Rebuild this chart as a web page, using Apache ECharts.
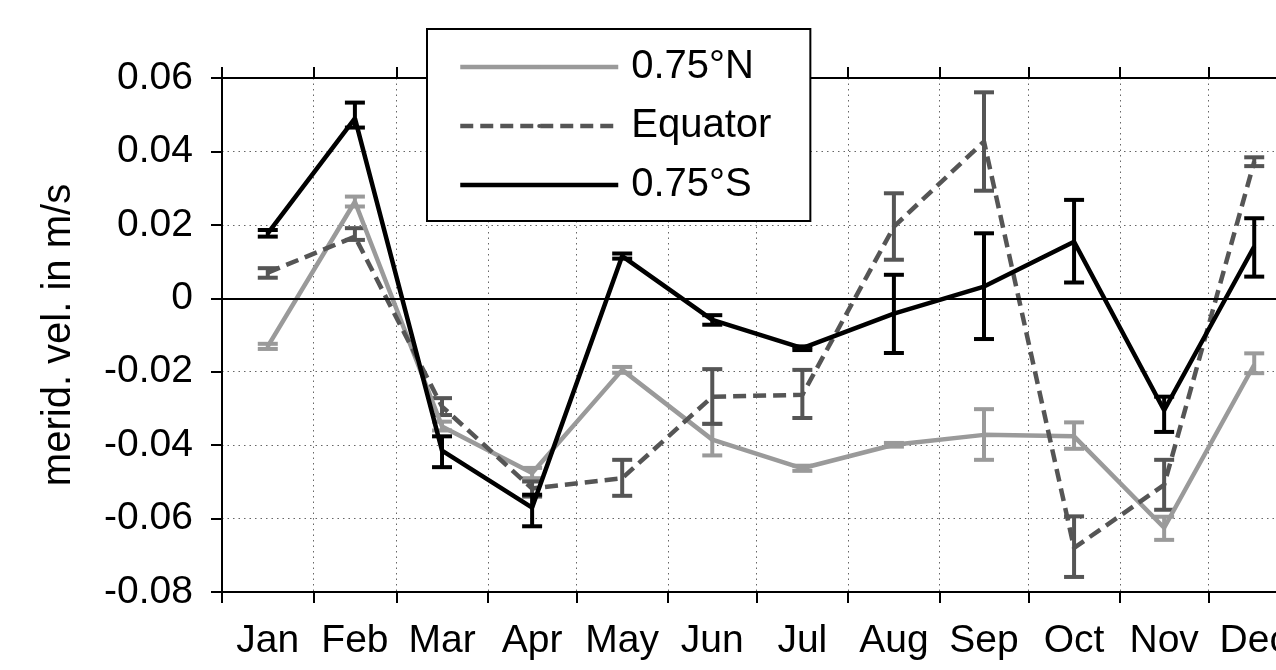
<!DOCTYPE html>
<html>
<head>
<meta charset="utf-8">
<script src="https://cdn.jsdelivr.net/npm/echarts@6/dist/echarts.min.js"></script>
<style>
html,body{margin:0;padding:0;background:#fff;}
#chart{width:1276px;height:670px;}
</style>
</head>
<body>
<div id="chart"></div>
<script>
// ---- data ----
const months = ['Jan','Feb','Mar','Apr','May','Jun','Jul','Aug','Sep','Oct','Nov','Dec'];
const monthStarts = [0,31,59,90,120,151,181,212,243,273,304,334,365];
const midDays = [15.5,45,74.5,105,135.5,166,196.5,227.5,258,288.5,319,349.5];
const yTicks = [-0.08,-0.06,-0.04,-0.02,0,0.02,0.04,0.06];

const northName = '0.75°N';
const northVals = [-0.0131, 0.0263, -0.0349, -0.0476, -0.0195, -0.0385, -0.0463, -0.0399, -0.0372, -0.0376, -0.0625, -0.0181];
const northLow  = [-0.0138, 0.0250, -0.0360, -0.0490, -0.0203, -0.0428, -0.0470, -0.0404, -0.0440, -0.0410, -0.0658, -0.0204];
const northHigh = [-0.0124, 0.0277, -0.0336, -0.0462, -0.0187, -0.0342, -0.0456, -0.0394, -0.0302, -0.0338, -0.0595, -0.0150];

const eqName = 'Equator';
const eqVals = [0.0070, 0.0168, -0.0295, -0.0518, -0.0490, -0.0268, -0.0263, 0.0195, 0.0427, -0.0680, -0.0508, 0.0372];
const eqLow  = [0.0056, 0.0159, -0.0318, -0.0540, -0.0538, -0.0342, -0.0326, 0.0105, 0.0293, -0.0759, -0.0576, 0.0360];
const eqHigh = [0.0082, 0.0191, -0.0272, -0.0499, -0.0440, -0.0193, -0.0195, 0.0286, 0.0561, -0.0594, -0.0440, 0.0384];

const southName = '0.75°S';
const southVals = [0.0177, 0.0490, -0.0415, -0.0570, 0.0115, -0.0059, -0.0136, -0.0042, 0.0032, 0.0154, -0.0305, 0.0141];
const southLow  = [0.0168, 0.0465, -0.0460, -0.0621, 0.0108, -0.0072, -0.0141, -0.0149, -0.0111, 0.0043, -0.0364, 0.0059];
const southHigh = [0.0186, 0.0533, -0.0376, -0.0535, 0.0122, -0.0046, -0.0131, 0.0064, 0.0177, 0.0268, -0.0268, 0.0218];

// ---- styles ----
const FONT = 'Liberation Sans, Arial, sans-serif';
const colN = '#9a9a9a', colE = '#555555', colS = '#000000';

function lineSeries(name, vals, color, dashed) {
  return {
    name: name, type: 'line', xAxisIndex: 0, yAxisIndex: 0,
    data: midDays.map((d, i) => [d, vals[i]]),
    symbol: 'none',
    itemStyle: { color: color },
    lineStyle: { color: color, width: 4.5, type: dashed ? [13, 7] : 'solid' },
    z: 3
  };
}
function errSeries(name, low, high, color) {
  return {
    name: name + ' err', type: 'custom', xAxisIndex: 0, yAxisIndex: 0,
    data: midDays.map((d, i) => [d, low[i], high[i]]),
    encode: { x: 0, y: [1, 2] },
    z: 3,
    renderItem: function (params, api) {
      const x = api.value(0);
      const a = api.coord([x, api.value(1)]);
      const b = api.coord([x, api.value(2)]);
      const hw = 10;
      const st = { stroke: color, lineWidth: 4 };
      return {
        type: 'group',
        children: [
          { type: 'line', shape: { x1: a[0], y1: a[1], x2: b[0], y2: b[1] }, style: st },
          { type: 'line', shape: { x1: a[0] - hw, y1: a[1], x2: a[0] + hw, y2: a[1] }, style: st },
          { type: 'line', shape: { x1: b[0] - hw, y1: b[1], x2: b[0] + hw, y2: b[1] }, style: st }
        ]
      };
    }
  };
}

const chart = echarts.init(document.getElementById('chart'), null, { renderer: 'canvas' });
const option = {
  animation: false,
  backgroundColor: '#ffffff',
  textStyle: { fontFamily: FONT },
  grid: { left: 222, top: 78, width: 1078, height: 514, containLabel: false, outerBoundsMode: 'none' },
  legend: {
    data: [northName, eqName, southName],
    orient: 'vertical',
    left: 427, top: 29,
    padding: [18, 39, 16, 31],
    itemWidth: 158, itemHeight: 5, itemGap: 19,
    backgroundColor: '#ffffff',
    borderColor: '#000000', borderWidth: 2, borderRadius: 0,
    lineStyle: { width: 4.5 },
    textStyle: { fontSize: 40, color: '#000', fontFamily: FONT, padding: [0, 0, 0, 8] },
    selectedMode: false,
    z: 10
  },
  xAxis: [
    {
      type: 'value', position: 'bottom', min: 0, max: 365,
      axisLine: { onZero: false, lineStyle: { color: '#000', width: 2 } },
      axisTick: { show: true, inside: false, length: 11, customValues: monthStarts, lineStyle: { color: '#000', width: 2 } },
      axisLabel: {
        customValues: midDays,
        formatter: function (v) { const i = midDays.indexOf(v); return i >= 0 ? months[i] : ''; },
        fontSize: 39, color: '#000', fontFamily: FONT, margin: 30
      },
      splitLine: { show: true, lineStyle: { color: '#666', width: 1, type: [1.5, 4] } }
    },
    {
      type: 'value', position: 'top', min: 0, max: 365,
      axisLine: { onZero: false, lineStyle: { color: '#000', width: 2 } },
      axisTick: { show: true, inside: false, length: 11, customValues: monthStarts, lineStyle: { color: '#000', width: 2 } },
      axisLabel: { show: false },
      splitLine: { show: false }
    }
  ],
  yAxis: [
    {
      type: 'value', min: -0.08, max: 0.06, interval: 0.02,
      name: 'merid. vel. in m/s', nameLocation: 'middle', nameGap: 143, nameRotate: 90,
      nameTextStyle: { fontSize: 40, color: '#000', fontFamily: FONT },
      axisLine: { show: true, onZero: false, lineStyle: { color: '#000', width: 2 } },
      axisTick: { show: true, inside: false, length: 11, lineStyle: { color: '#000', width: 2 } },
      axisLabel: {
        fontSize: 39, color: '#000', fontFamily: FONT, margin: 29,
        formatter: function (v) { return String(Math.round(v * 100) / 100); }
      },
      splitLine: { show: true, lineStyle: { color: '#666', width: 1, type: [1.5, 4] } }
    }
  ],
  series: [
    {
      name: 'zero', type: 'line', data: [], xAxisIndex: 0, yAxisIndex: 0, z: 2,
      markLine: {
        silent: true, symbol: ['none', 'none'], label: { show: false },
        lineStyle: { color: '#000', width: 2, type: 'solid' },
        data: [{ yAxis: 0 }]
      }
    },
    lineSeries(northName, northVals, colN, false),
    errSeries(northName, northLow, northHigh, colN),
    lineSeries(eqName, eqVals, colE, true),
    errSeries(eqName, eqLow, eqHigh, colE),
    lineSeries(southName, southVals, colS, false),
    errSeries(southName, southLow, southHigh, colS)
  ]
};
chart.setOption(option);
</script>
</body>
</html>
